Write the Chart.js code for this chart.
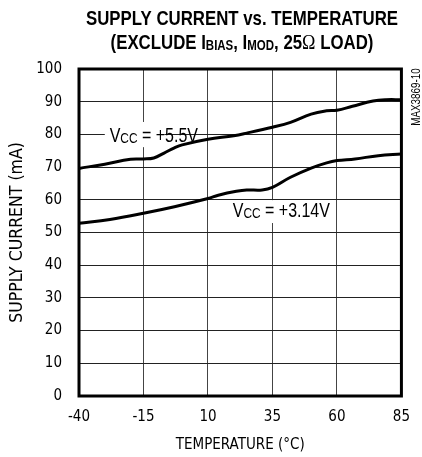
<!DOCTYPE html>
<html>
<head>
<meta charset="utf-8">
<script src="https://cdn.jsdelivr.net/npm/chart.js@4.4.1/dist/chart.umd.min.js"></script>
<style>
  body { margin: 0; background: #fff; }
  canvas { display: block; }
</style>
</head>
<body>
<canvas id="chart" width="422" height="457"></canvas>
<script>
// values
const temps55 = [-40, -30, -20, -15, -11, -7, -3, 0, 10, 20, 25, 35, 42, 50, 56, 60, 66, 74, 79, 85];
const current55 = [69.6, 70.9, 72.4, 72.5, 72.8, 74.3, 75.9, 76.8, 78.5, 79.6, 80.4, 82.2, 83.7, 86.2, 87.2, 87.4, 88.6, 90.2, 90.6, 90.6];

const temps314 = [-40, -28, -15, -3, 10, 14, 21, 25, 31, 35, 42, 50, 56, 60, 67, 76, 85];
const current314 = [52.8, 54.0, 55.9, 57.9, 60.4, 61.4, 62.6, 63.0, 63.0, 63.8, 66.9, 69.7, 71.3, 72.0, 72.5, 73.5, 74.0];

const xTicks = [-40, -15, 10, 35, 60, 85];
const yTicks = [0, 10, 20, 30, 40, 50, 60, 70, 80, 90, 100];

const COND = "'DejaVu Sans Condensed', 'Liberation Sans', sans-serif";
const SANS = "'Liberation Sans', Arial, sans-serif";
const NARROW_X = 0.82; // squeeze Liberation Sans into a narrow face

// draws a run of text pieces (for the subscripts), squeezed horizontally
function drawRuns(ctx, runs, x, y, align, sx) {
    let total = 0;
    runs.forEach(r => { ctx.font = r[1]; total += ctx.measureText(r[0]).width; });
    ctx.save();
    ctx.translate(x, y);
    ctx.scale(sx, 1);
    let cx = align === "center" ? -total / 2 : 0;
    ctx.textAlign = "left";
    ctx.textBaseline = "alphabetic";
    runs.forEach(r => {
        ctx.font = r[1];
        ctx.fillText(r[0], cx, r[2] || 0);
        cx += ctx.measureText(r[0]).width;
    });
    ctx.restore();
}

const mainLabel = "19.5px " + SANS;
const subLabel = "14.5px " + SANS;

const curveLabels = [
    { box: [-30, 83.8, -6.9, 76.1], at: [-28.1, 77.6],
      runs: [["V", mainLabel], ["CC", subLabel, 1], [" = +5.5V", mainLabel]] },
    { box: [17.7, 59.9, 52.9, 52.9], at: [19.6, 54.8],
      runs: [["V", mainLabel], ["CC", subLabel, 1], [" = +3.14V", mainLabel]] },
];

const extras = {
    id: "extras",
    beforeDatasetsDraw(chart) {
        const ctx = chart.ctx;
        const xs = chart.scales.x, ys = chart.scales.y;
        ctx.save();
        curveLabels.forEach(l => {
            const x1 = xs.getPixelForValue(l.box[0]), y1 = ys.getPixelForValue(l.box[1]);
            const x2 = xs.getPixelForValue(l.box[2]), y2 = ys.getPixelForValue(l.box[3]);
            ctx.fillStyle = "#fff";
            ctx.fillRect(x1, y1, x2 - x1, y2 - y1);
            ctx.fillStyle = "#000";
            drawRuns(ctx, l.runs, xs.getPixelForValue(l.at[0]), ys.getPixelForValue(l.at[1]), "left", NARROW_X);
        });
        ctx.restore();
    },
    afterDatasetsDraw(chart) {
        const ctx = chart.ctx;
        const a = chart.chartArea;
        ctx.save();
        // heavy frame
        ctx.strokeStyle = "#000";
        ctx.lineWidth = 3;
        ctx.strokeRect(a.left, a.top, a.right - a.left, a.bottom - a.top);

        // title
        ctx.fillStyle = "#000";
        const tb = "bold 20.5px " + SANS;
        const ts = "bold 14px " + SANS;
        drawRuns(ctx, [["SUPPLY CURRENT vs. TEMPERATURE", tb]], 242, 25, "center", NARROW_X);
        drawRuns(ctx, [
            ["(EXCLUDE I", tb], ["BIAS", ts, 1], [", I", tb], ["MOD", ts, 1],
            [", 25", tb], ["\u03A9", "22px 'Liberation Serif', serif"], [" LOAD)", tb]
        ], 242, 48.5, "center", NARROW_X);

        // part number on the right edge
        ctx.translate(416, 97);
        ctx.rotate(-Math.PI / 2);
        drawRuns(ctx, [["MAX3869-10", "12px " + SANS]], 0, 4, "center", NARROW_X);
        ctx.restore();
    }
};

new Chart(document.getElementById("chart"), {
    type: "line",
    data: {
        datasets: [
            {
                label: "VCC = +5.5V",
                data: temps55.map((t, i) => ({ x: t, y: current55[i] })),
            },
            {
                label: "VCC = +3.14V",
                data: temps314.map((t, i) => ({ x: t, y: current314[i] })),
            },
        ],
    },
    options: {
        responsive: false,
        animation: false,
        devicePixelRatio: 1,
        layout: { padding: { top: 69, right: 16, left: 0, bottom: 0 } },
        elements: {
            line: { borderColor: "#000", borderWidth: 3, tension: 0.4, fill: false },
            point: { radius: 0 },
        },
        scales: {
            x: {
                type: "linear",
                min: -40,
                max: 85,
                afterBuildTicks: s => { s.ticks = xTicks.map(v => ({ value: v })); },
                afterFit: s => { s.height = 61; },
                grid: { color: "#444", lineWidth: 1, drawTicks: false },
                border: { display: false },
                ticks: { color: "#000", padding: 12, font: { family: COND, size: 15 } },
                title: {
                    display: true,
                    text: "TEMPERATURE (\u00B0C)",
                    color: "#000",
                    font: { family: COND, size: 15 },
                    padding: { top: 0, bottom: 3 },
                },
            },
            y: {
                min: 0,
                max: 100,
                afterBuildTicks: s => { s.ticks = yTicks.map(v => ({ value: v })); },
                afterFit: s => { s.width = 79; },
                grid: { color: "#222", lineWidth: 1, drawTicks: false },
                border: { display: false },
                ticks: { color: "#000", padding: 17, font: { family: COND, size: 15 } },
                title: {
                    display: true,
                    text: "SUPPLY CURRENT (mA)",
                    color: "#000",
                    font: { family: COND, size: 17.5 },
                    padding: { top: 7, bottom: 0 },
                },
            },
        },
        plugins: {
            legend: { display: false },
            tooltip: { enabled: false },
        },
    },
    plugins: [extras],
});
</script>
</body>
</html>
